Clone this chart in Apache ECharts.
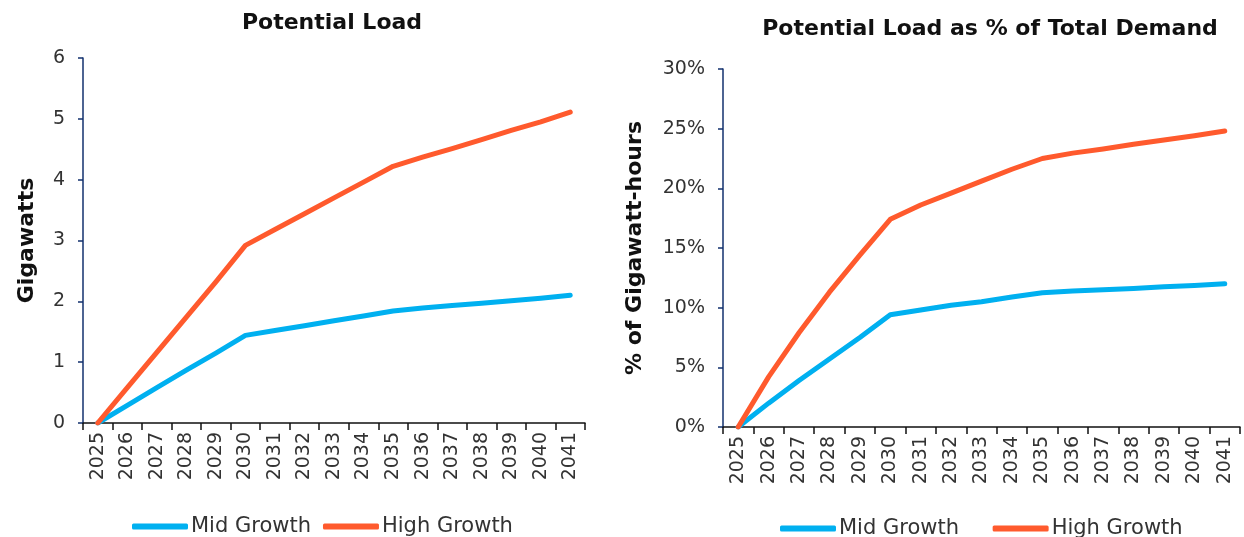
<!DOCTYPE html>
<html>
<head>
<meta charset="utf-8">
<script src="https://cdn.jsdelivr.net/npm/echarts@6/dist/echarts.min.js"></script>
<style>
  html, body { margin: 0; padding: 0; background: #fff; }
  #chart { width: 1244px; height: 537px; }
</style>
</head>
<body>
<div id="chart"></div>
<script>
const years = ['2025', '2026', '2027', '2028', '2029', '2030', '2031', '2032',
  '2033', '2034', '2035', '2036', '2037', '2038', '2039', '2040', '2041']

// Potential Load, gigawatts
const loadMid = [0, 0.29, 0.58, 0.87, 1.15, 1.44, 1.52, 1.60, 1.68, 1.76, 1.84, 1.89, 1.93, 1.97, 2.01, 2.05, 2.10]
const loadHigh = [0, 0.58, 1.16, 1.74, 2.32, 2.92, 3.18, 3.44, 3.70, 3.96, 4.22, 4.37, 4.51, 4.66, 4.81, 4.95, 5.11]

// Potential Load as % of total demand
const shareMid = [0, 2.0, 3.9, 5.7, 7.5, 9.4, 9.8, 10.2, 10.5, 10.9, 11.25, 11.4, 11.5, 11.6, 11.75, 11.85, 12.0]
const shareHigh = [0, 4.2, 7.9, 11.3, 14.4, 17.4, 18.6, 19.6, 20.6, 21.6, 22.5, 22.95, 23.3, 23.7, 24.05, 24.4, 24.8]

const BLUE = '#00b0f0'
const ORANGE = '#ff5a2d'
const NAVY = '#12306e'
const FONT = 'DejaVu Sans'

const chart = echarts.init(document.getElementById('chart'))

const xAxisBase = {
  type: 'category',
  data: years,
  axisLine: { lineStyle: { color: '#111', width: 1.5 } },
  axisTick: { show: true, interval: 0, length: 7, lineStyle: { color: '#111', width: 1.5 } },
  axisLabel: { interval: 0, rotate: 90, color: '#333', fontSize: 19, fontFamily: FONT, margin: 9 }
}

const yAxisBase = {
  type: 'value',
  nameLocation: 'middle',
  nameRotate: 90,
  nameTextStyle: { fontSize: 22, fontWeight: 'bold', color: '#111', fontFamily: FONT },
  axisLine: { show: true, lineStyle: { color: NAVY, width: 1.5 } },
  axisTick: { show: true, length: 5, lineStyle: { color: NAVY, width: 1.5 } },
  axisLabel: { color: '#333', fontSize: 19, fontFamily: FONT, margin: 18 },
  splitLine: { show: false }
}

const lineStyle = (color) => ({
  type: 'line',
  showSymbol: false,
  symbol: 'none',
  lineStyle: { color: color, width: 5, cap: 'round', join: 'round' },
  itemStyle: { color: color }
})

const legendBase = {
  icon: 'roundRect',
  itemWidth: 56,
  itemHeight: 6,
  textStyle: { fontSize: 21, color: '#333', fontFamily: FONT, padding: [0, 0, 0, -2] }
}

const option = {
  animation: false,
  title: [
    {
      text: 'Potential Load',
      left: 327, top: 7, textAlign: 'center',
      textStyle: { fontSize: 22, fontWeight: 'bold', color: '#111', fontFamily: FONT }
    },
    {
      text: 'Potential Load as % of Total Demand',
      left: 985, top: 13, textAlign: 'center',
      textStyle: { fontSize: 22, fontWeight: 'bold', color: '#111', fontFamily: FONT }
    }
  ],
  legend: [
    Object.assign({}, legendBase, {
      left: 127, top: 511, itemGap: 12,
      data: ['Mid Growth', 'High Growth']
    }),
    Object.assign({}, legendBase, {
      left: 775, top: 513, itemGap: 27,
      data: ['Mid Growth ', 'High Growth ']
    })
  ],
  grid: [
    { left: 83, top: 58, width: 502, height: 365 },
    { left: 723, top: 69, width: 517, height: 358 }
  ],
  xAxis: [
    Object.assign({}, xAxisBase, { gridIndex: 0 }),
    Object.assign({}, xAxisBase, { gridIndex: 1 })
  ],
  yAxis: [
    Object.assign({}, yAxisBase, {
      gridIndex: 0, min: 0, max: 6, interval: 1,
      name: 'Gigawatts', nameGap: 45
    }),
    Object.assign({}, yAxisBase, {
      gridIndex: 1, min: 0, max: 30, interval: 5,
      name: '% of Gigawatt-hours', nameGap: 77,
      axisLabel: Object.assign({}, yAxisBase.axisLabel, { formatter: '{value}%' })
    })
  ],
  series: [
    Object.assign(lineStyle(BLUE), { name: 'Mid Growth', xAxisIndex: 0, yAxisIndex: 0, data: loadMid }),
    Object.assign(lineStyle(ORANGE), { name: 'High Growth', xAxisIndex: 0, yAxisIndex: 0, data: loadHigh }),
    Object.assign(lineStyle(BLUE), { name: 'Mid Growth ', xAxisIndex: 1, yAxisIndex: 1, data: shareMid }),
    Object.assign(lineStyle(ORANGE), { name: 'High Growth ', xAxisIndex: 1, yAxisIndex: 1, data: shareHigh })
  ]
}

chart.setOption(option)

window.addEventListener('resize', () => {
  chart.resize()
})
</script>
</body>
</html>
